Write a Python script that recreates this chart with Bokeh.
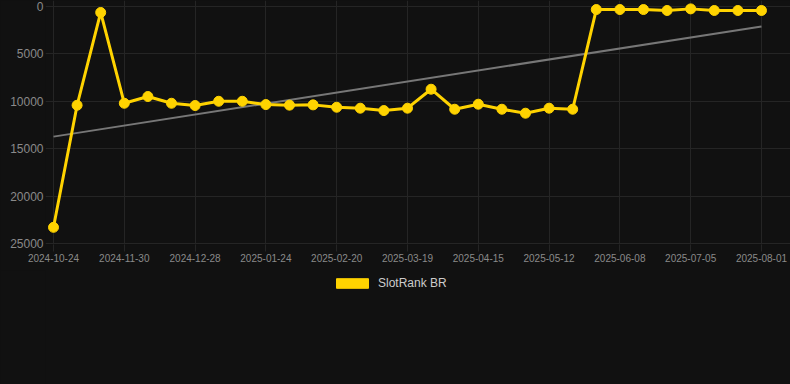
import numpy as np
from bokeh.plotting import figure
from bokeh.layouts import column
from bokeh.models import Range1d, FixedTicker, Legend, LegendItem, ColumnDataSource
from bokeh.embed import file_html
from bokeh.resources import INLINE

series_name = "SlotRank BR"
tick_labels = ["2024-10-24", "2024-11-30", "2024-12-28", "2025-01-24", "2025-02-20",
               "2025-03-19", "2025-04-15", "2025-05-12", "2025-06-08", "2025-07-05",
               "2025-08-01"]
rank = [23280, 10410, 630, 10200, 9490, 10200, 10440, 9990, 9990, 10340,
        10400, 10370, 10620, 10720, 10970, 10720, 8720, 10830, 10300, 10830,
        11250, 10720, 10830, 320, 320, 320, 420, 250, 420, 420, 420]
y_ticks = [0, 5000, 10000, 15000, 20000, 25000]

BG = "#111111"
GRID = "#252525"
LABEL = "#8a8a8a"
GOLD = "#FFD300"

idx = np.arange(len(rank))
tick_pos = list(range(0, len(rank), 3))
coef = np.polyfit(idx, rank, 1)
trend_x = [int(idx[0]), int(idx[-1])]
trend_y = list(np.polyval(coef, trend_x))

p = figure(width=790, height=270, output_backend="svg", toolbar_location=None,
           x_range=Range1d(-0.339, 31.23), y_range=Range1d(25090, -633),
           min_border_left=45, min_border_right=0, min_border_top=0,
           min_border_bottom=26)
p.background_fill_color = BG
p.border_fill_color = BG
p.outline_line_color = None

p.line(trend_x, trend_y, line_color="#777777", line_width=2)
src = ColumnDataSource(dict(x=idx, y=rank))
p.line("x", "y", source=src, line_color=GOLD, line_width=3)
p.scatter("x", "y", source=src, size=10, fill_color=GOLD, line_color=GOLD)

p.xaxis.ticker = FixedTicker(ticks=tick_pos)
p.xaxis.major_label_overrides = {t: lab for t, lab in zip(tick_pos, tick_labels)}
p.xaxis.axis_line_color = None
p.xaxis.major_tick_out = 7
p.xaxis.major_tick_in = 0
p.xaxis.major_tick_line_color = GRID
p.xaxis.minor_tick_line_color = None
p.xaxis.major_label_text_color = LABEL
p.xaxis.major_label_text_font = "Liberation Sans"
p.xaxis.major_label_text_font_size = "10px"
p.xaxis.major_label_standoff = 2

p.yaxis.ticker = FixedTicker(ticks=y_ticks)
p.yaxis.axis_line_color = None
p.yaxis.major_tick_out = 0
p.yaxis.major_tick_in = 0
p.yaxis.minor_tick_line_color = None
p.yaxis.major_label_text_color = LABEL
p.yaxis.major_label_text_font = "Liberation Sans"
p.yaxis.major_label_text_font_size = "12px"
p.yaxis.major_label_standoff = 2

p.xgrid.grid_line_color = GRID
p.ygrid.grid_line_color = GRID

# legend strip below the chart
lg = figure(width=790, height=114, output_backend="svg", toolbar_location=None,
            x_range=Range1d(0, 1), y_range=Range1d(0, 1),
            x_axis_location=None, y_axis_location=None,
            min_border_left=0, min_border_right=0, min_border_top=0,
            min_border_bottom=0, styles={"background-color": BG})
lg.background_fill_color = None
lg.border_fill_color = BG
lg.outline_line_color = None
lg.center = []
# swatch-only renderer, kept outside the visible range
dummy = lg.quad(left=[-3], right=[-2], top=[-3], bottom=[-2],
                fill_color=GOLD, line_color=GOLD)

legend = Legend(items=[LegendItem(label=series_name, renderers=[dummy])],
                location=(287, 94), orientation="horizontal",
                glyph_width=40, glyph_height=12, label_height=12, label_standoff=6,
                label_text_font="Liberation Sans", label_text_font_size="12px",
                label_text_color="#cccccc", background_fill_alpha=0,
                border_line_color=None, padding=0, margin=0, spacing=0)
lg.add_layout(legend)

layout = column(p, lg, spacing=0, styles={"background-color": BG})
open("out.html", "w").write(file_html(layout, INLINE))
